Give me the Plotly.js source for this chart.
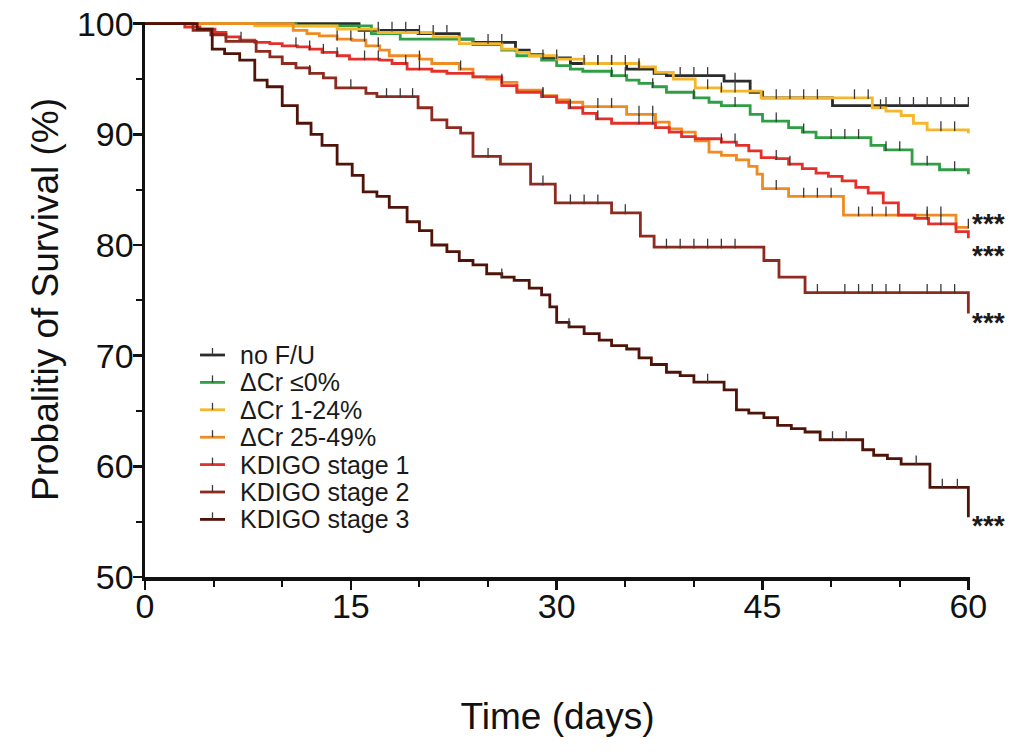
<!DOCTYPE html>
<html>
<head>
<meta charset="utf-8">
<script src="https://cdn.plot.ly/plotly-3.0.1.min.js"></script>
<style>html,body{margin:0;padding:0;background:#fff;}</style>
</head>
<body>
<div id="chart" style="width:1035px;height:756px;"></div>
<script>
// ---- data ----
const seriesNames = ["no F/U", "\u0394Cr \u22640%", "\u0394Cr 1-24%", "\u0394Cr 25-49%", "KDIGO stage 1", "KDIGO stage 2", "KDIGO stage 3"];

const noFU_t = [0, 15.6, 19.9, 22.9, 23.9, 27.0, 28.0, 29.0, 31.0, 35.1, 37.1, 38.0, 42.2, 44.1, 45.0, 50.1, 60];
const noFU_S = [100, 99.4, 99.1, 98.6, 98.3, 97.6, 97.2, 96.9, 96.4, 95.9, 95.5, 95.3, 94.8, 93.8, 93.3, 92.6, 92.6];
const noFU_cens = [1,2,3,4,5,6,7,8,9,10,11,12,13,14,15,17,18,19,20,21,22,25,26,29,30,32,33,34,36,39,40,41,43,46,47,48,49,54,55,56,57,58,59,60];

const neg_t = [0, 11.0, 16.5, 18.6, 23.9, 26.0, 27.1, 28.9, 30.0, 31.0, 31.9, 34.0, 35.1, 36.0, 37.0, 38.0, 40.0, 41.1, 42.0, 44.1, 45.0, 46.9, 47.9, 48.9, 52.9, 53.9, 55.9, 57.9, 60];
const neg_S = [100, 99.8, 99.1, 98.6, 98.1, 97.6, 97.1, 96.7, 96.2, 95.9, 95.7, 95.3, 94.9, 94.6, 94.3, 93.8, 93.3, 92.9, 92.6, 91.8, 91.2, 90.6, 90.2, 89.7, 89.0, 88.6, 87.3, 86.8, 86.4];
const neg_cens = [34, 35, 37, 40, 43, 46, 48, 50, 51, 52, 54, 55, 57, 59];

const low_t = [0, 8.0, 14.0, 17.0, 21.0, 22.9, 26.0, 27.1, 28.0, 30.0, 32.0, 36.0, 37.2, 38.5, 40.1, 42.0, 44.9, 53.0, 54.0, 55.1, 56.0, 57.0, 60];
const low_S = [100, 99.8, 99.5, 99.2, 98.8, 98.2, 97.7, 97.4, 97.1, 96.8, 96.4, 96.1, 95.6, 95.0, 94.2, 93.9, 93.3, 92.4, 92.1, 91.7, 91.0, 90.4, 90.1];
const low_cens = [33, 34, 35, 36, 41, 42, 43, 51.7, 52.7, 53.6, 58, 59];

const mid_t = [0, 10.8, 11.8, 12.7, 14.0, 15.1, 16.1, 17.1, 17.8, 20.0, 20.9, 22.9, 23.9, 24.9, 26.0, 27.1, 28.9, 30.0, 30.9, 31.9, 35.1, 37.2, 38.2, 39.1, 40.1, 41.1, 42.0, 43.1, 44.0, 44.6, 45.0, 46.9, 50.9, 59.1, 60];
const mid_S = [100, 99.4, 99.1, 98.9, 98.6, 98.5, 98.0, 97.6, 97.1, 96.8, 96.4, 95.9, 95.2, 95.0, 94.7, 94.0, 93.5, 93.1, 92.9, 92.5, 91.8, 91.1, 90.5, 90.2, 89.4, 88.4, 88.1, 87.7, 87.1, 86.4, 85.1, 84.4, 82.7, 81.6, 81.6];
const mid_cens = [14, 15, 16, 17, 20, 23, 26, 29, 33, 34, 36, 37, 46, 48, 49, 50, 52, 53, 54, 57, 58, 60];

const k1_t = [0, 2.9, 4.0, 5.1, 5.9, 6.9, 8.0, 9.1, 10.0, 11.1, 12.0, 12.9, 14.0, 14.9, 17.1, 18.0, 19.1, 20.9, 22.0, 23.9, 26.0, 27.1, 28.9, 30.0, 30.9, 31.9, 32.9, 34.0, 37.2, 38.2, 39.1, 40.1, 42.0, 43.1, 44.0, 44.9, 46.0, 46.9, 47.9, 48.9, 49.8, 50.8, 51.8, 52.7, 53.8, 54.9, 56.1, 57.1, 59.1, 60];
const k1_S = [100, 99.7, 99.5, 99.2, 98.8, 98.5, 98.3, 98.2, 98.0, 97.9, 97.7, 97.4, 97.1, 96.8, 96.7, 96.4, 95.9, 95.7, 95.5, 95.2, 94.4, 93.8, 93.4, 92.9, 92.4, 91.9, 91.4, 91.0, 90.6, 90.2, 89.8, 89.6, 89.3, 89.0, 88.5, 87.9, 87.8, 87.3, 86.9, 86.5, 86.2, 85.8, 85.2, 84.7, 83.8, 82.7, 82.4, 81.9, 81.2, 80.6];
const k1_cens = [7, 11, 12, 13, 14, 16, 17, 19, 20, 29, 31, 33, 36, 37, 42, 43, 46, 47, 57, 58];

const k2_t = [0, 3.5, 4.8, 5.9, 8.1, 9.1, 10.0, 11.0, 12.0, 13.0, 13.9, 16.1, 16.9, 19.9, 20.9, 22.0, 23.0, 23.9, 25.9, 28.1, 29.9, 34.0, 36.1, 37.1, 45.1, 46.2, 48.1, 60];
const k2_S = [100, 99.4, 99.0, 98.4, 97.5, 97.0, 96.4, 96.0, 95.5, 95.1, 94.2, 93.7, 93.4, 92.4, 91.3, 90.6, 90.1, 88.0, 87.3, 85.5, 83.8, 82.9, 80.8, 79.8, 78.6, 77.1, 75.7, 73.8];
const k2_cens = [12, 15, 17.6, 18.6, 19.5, 25, 29, 31, 32, 33, 35, 38, 39, 40, 41, 42, 43, 49, 51, 52, 53, 54, 55, 57, 58, 59];

const k3_t = [0, 3.8, 4.9, 5.8, 6.9, 8.0, 8.9, 10.0, 11.1, 12.1, 12.9, 14.0, 15.1, 15.9, 16.9, 17.8, 19.1, 20.0, 20.9, 22.0, 22.9, 23.9, 24.9, 26.0, 26.9, 28.0, 28.9, 29.5, 30.0, 30.9, 32.0, 33.1, 34.0, 35.1, 36.0, 36.9, 38.0, 39.0, 40.0, 42.2, 43.1, 44.0, 45.1, 46.1, 47.1, 48.1, 49.2, 52.3, 53.1, 54.1, 55.1, 57.2, 60];
const k3_S = [100, 99.5, 97.7, 97.3, 96.7, 94.9, 94.3, 92.6, 91.0, 90.0, 89.0, 87.3, 86.3, 84.8, 84.4, 83.4, 82.1, 81.3, 80.0, 79.4, 78.6, 78.2, 77.4, 77.1, 76.8, 76.1, 75.5, 74.4, 73.0, 72.6, 72.0, 71.4, 70.9, 70.6, 69.8, 69.2, 68.5, 68.2, 67.6, 66.9, 65.1, 64.8, 64.4, 63.7, 63.4, 63.1, 62.4, 61.5, 61.0, 60.7, 60.2, 58.1, 55.4];
const k3_cens = [26, 30.9, 41, 50.1, 51.1, 56.2, 58.1, 59.2];

const xTicks = [0, 15, 30, 45, 60];
const yTicks = [50, 60, 70, 80, 90, 100];
const sigLabel = "***";

// ---- styling ----
const colors = ["#2b2b2b", "#2f9e44", "#f4b62a", "#f08a22", "#e3302a", "#8e2a1f", "#4f1309"];
const times = [noFU_t, neg_t, low_t, mid_t, k1_t, k2_t, k3_t];
const surv = [noFU_S, neg_S, low_S, mid_S, k1_S, k2_S, k3_S];
const cens = [noFU_cens, neg_cens, low_cens, mid_cens, k1_cens, k2_cens, k3_cens];
const FONT = "Liberation Sans, Arial, sans-serif";
const TICKCOL = "#3a3a3a";

function stepAt(ts, ss, t) {
  let v = ss[0];
  for (let i = 0; i < ts.length; i++) { if (ts[i] < t || (ts[i] === t && i < ts.length - 1 && t < 60)) v = ss[i]; }
  return v;
}

const traces = [];
for (let k = 0; k < seriesNames.length; k++) {
  traces.push({
    type: "scatter", mode: "lines", name: seriesNames[k], showlegend: false,
    x: times[k], y: surv[k], line: {shape: "hv", color: colors[k], width: 2.8},
    hoverinfo: "skip"
  });
}
// censor ticks (raised above the curve)
const tickOffset = 0.33;
for (let k = 0; k < seriesNames.length; k++) {
  traces.push({
    type: "scatter", mode: "markers", showlegend: false,
    x: cens[k], y: cens[k].map(t => stepAt(times[k], surv[k], t) + tickOffset),
    marker: {symbol: "line-ns", size: 7, line: {width: 1.3, color: TICKCOL}},
    cliponaxis: false, hoverinfo: "skip"
  });
}

// significance marks
const starSeries = [3, 4, 5, 6];
const starShift = [4, -17, -9, -8];
const annotations = starSeries.map((k, i) => ({
  x: 60, y: surv[k][surv[k].length - 1], xref: "x", yref: "y",
  text: "<b>" + sigLabel + "</b>", showarrow: false, xanchor: "left", yanchor: "middle",
  xshift: 2, yshift: starShift[i], font: {family: FONT, size: 28, color: "#1a1a1a"}
}));

// compact legend (text annotations + line swatches), rows 27.4px apart
const plotH = 555, legTop = 355 - 22, rowGap = 27.4;
const shapes = [];
for (let k = 0; k < seriesNames.length; k++) {
  const yc = 1 - (legTop + k * rowGap) / plotH;
  annotations.push({
    xref: "paper", yref: "paper", x: 0.1125, y: yc, xanchor: "left", yanchor: "middle",
    text: seriesNames[k], showarrow: false, font: {family: FONT, size: 25, color: "#1a1a1a"}
  });
  shapes.push({type: "line", xref: "paper", yref: "paper", x0: 0.0667, x1: 0.097, y0: yc, y1: yc,
               line: {color: colors[k], width: 2.8}});
  shapes.push({type: "line", xref: "paper", yref: "paper", x0: 0.0818, x1: 0.0818, y0: yc, y1: yc + 7 / plotH,
               line: {color: TICKCOL, width: 1.3}});
}

const axisCommon = {
  showline: true, linecolor: "#111", linewidth: 3.5, mirror: false,
  ticks: "outside", ticklen: 9, tickwidth: 2.5, tickcolor: "#111",
  showgrid: false, zeroline: false,
  tickfont: {family: FONT, size: 34, color: "#111"}
};

const layout = {
  width: 1035, height: 756,
  margin: {l: 145, r: 65, t: 22, b: 179},
  paper_bgcolor: "#fff", plot_bgcolor: "#fff",
  showlegend: false,
  xaxis: Object.assign({}, axisCommon, {
    range: [0, 60.12], tickmode: "array", tickvals: xTicks, ticktext: xTicks.map(String),
    ticklabelstandoff: -12,
    minor: {tickmode: "linear", tick0: 0, dtick: 5, ticks: "outside", ticklen: 6, tickwidth: 2, tickcolor: "#111", showgrid: false},
    title: {text: "Time (days)", font: {family: FONT, size: 37, color: "#111"}, standoff: 80}
  }),
  yaxis: Object.assign({}, axisCommon, {
    range: [50, 100.15], tickmode: "array", tickvals: yTicks, ticktext: yTicks.map(String),
    ticklabelstandoff: -8,
    minor: {tickmode: "linear", tick0: 50, dtick: 5, ticks: "outside", ticklen: 6, tickwidth: 2, tickcolor: "#111", showgrid: false},
    title: {text: "Probalitiy of Survival (%)", font: {family: FONT, size: 37, color: "#111"}, standoff: 8}
  }),
  annotations: annotations,
  shapes: shapes
};

Plotly.newPlot("chart", traces, layout, {displayModeBar: false, staticPlot: true});
</script>
</body>
</html>
